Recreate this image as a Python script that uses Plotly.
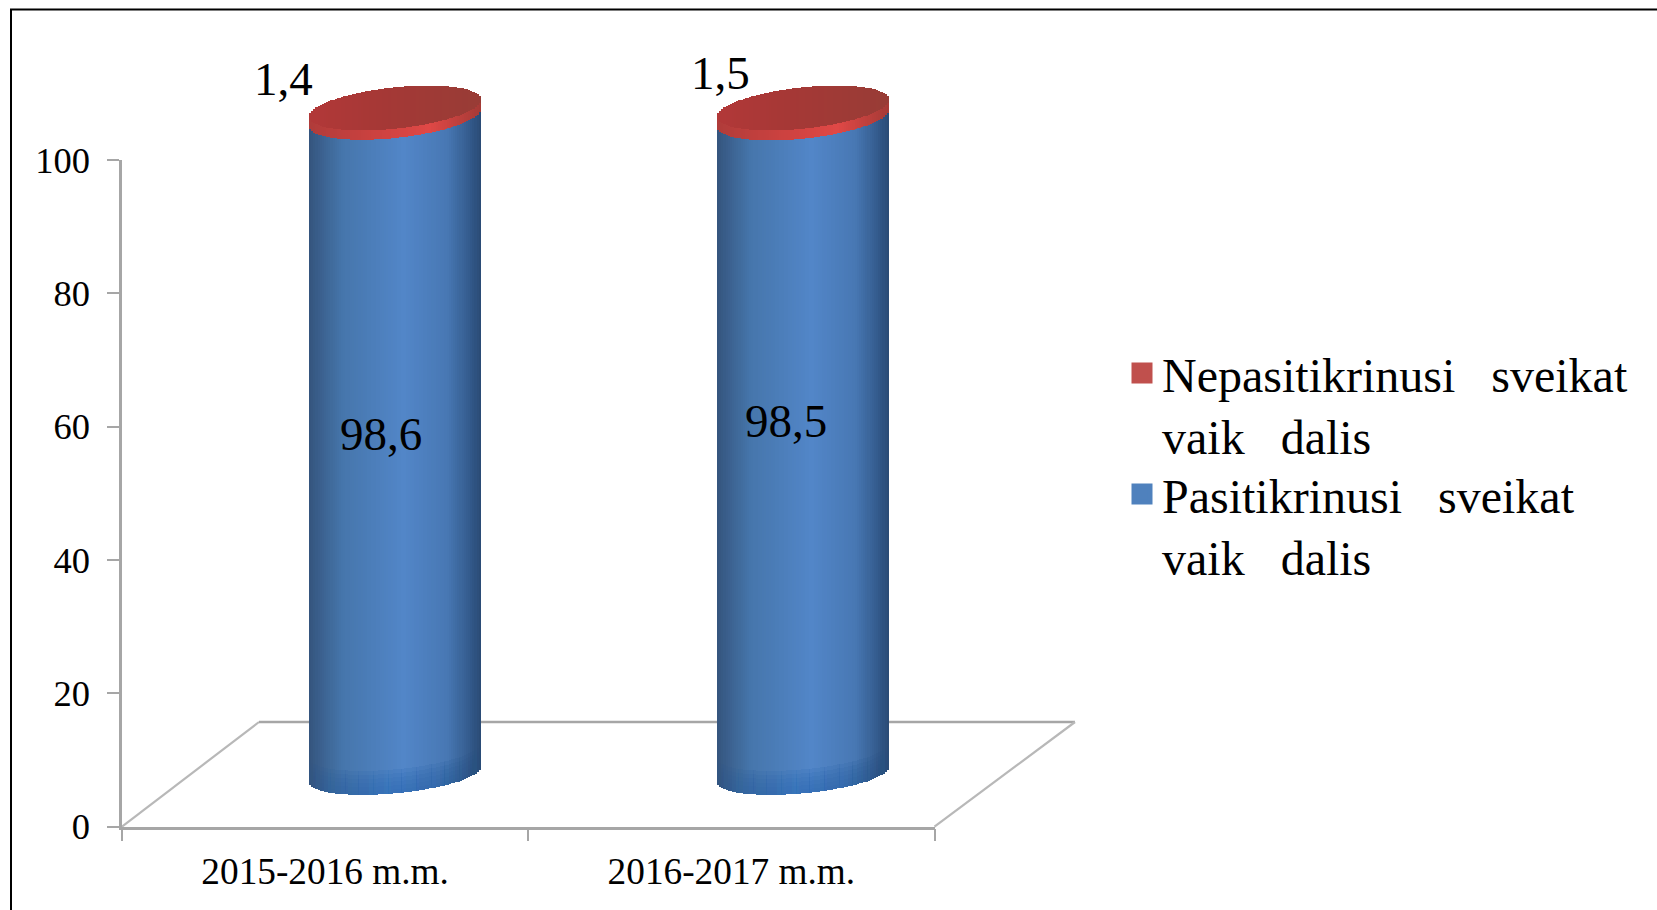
import numpy as np
import plotly.graph_objects as go

# ---- data ----
categories = ["2015-2016 m.m.", "2016-2017 m.m."]
checked = [98.6, 98.5]
unchecked = [1.4, 1.5]
# the leading blank line keeps the legend swatch level with the first text line
name_unchecked = "\u00a0<br>Nepasitikrinusi\u00a0\u00a0\u00a0sveikat<br>vaik\u00a0\u00a0\u00a0dalis"
name_checked = "\u00a0<br>Pasitikrinusi\u00a0\u00a0\u00a0sveikat<br>vaik\u00a0\u00a0\u00a0dalis"
y_ticks = [0, 20, 40, 60, 80, 100]

# ---- layout constants (pixels of the 1657x910 page) ----
W, H = 1657, 910
PX0, PX1, PY0, PY100 = 122, 934.5, 826.7, 160
FLOOR_R = 1075
DEPTH_X, DEPTH_Y = 137, 104.7        # full depth of the floor
SHIFT_X, SHIFT_Y = 69, 52.4          # cylinders stand in the middle of it
X2_SPAN = 816
UNIT = (PY0 - PY100) / 100
Y2_MIN, Y2_MAX = -12, 112

def fx(p): return p / W
def fy(p): return 1 - p / H

BAR_W = 172 / (X2_SPAN / 2)
A = BAR_W / 2
N = 80
TILT = 1.3    # y-units the ellipse rises from centre to right edge
B = 3.1       # y-units of the ellipse half height

def lerp_colors(stops, t):
    xs = [s[0] for s in stops]
    return "rgb({},{},{})".format(*[int(round(np.interp(t, xs, [s[1][k] for s in stops]))) for k in range(3)])

BLUE = [(0, (52, 84, 124)), (0.06, (58, 95, 140)), (0.2, (70, 118, 172)), (0.55, (82, 134, 200)),
        (0.8, (72, 120, 180)), (0.93, (52, 92, 142)), (1, (42, 74, 116))]
BLUE_LOW = [(0, (48, 84, 130)), (0.12, (50, 98, 155)), (0.45, (52, 112, 185)), (0.75, (48, 104, 170)),
            (1, (42, 76, 120))]
RIM = [(0, (176, 60, 58)), (0.4, (205, 66, 64)), (0.7, (224, 72, 70)), (1, (165, 58, 54))]
CAP = [(0, (178, 56, 56)), (0.4, (166, 56, 54)), (1, (152, 60, 54))]

u = (np.arange(N) + 0.5) / N * 2 - 1
t = (u + 1) / 2
front = TILT * u - B * np.sqrt(1 - u ** 2)
back = TILT * u + B * np.sqrt(1 - u ** 2)
strip_w = BAR_W / N * 1.06

sx, blue_base, blue_h, blue_c, low_c = [], [], [], [], []
red_base, red_h, red_c = [], [], []
cap_base, cap_h, cap_c = [], [], []
for i in range(len(categories)):
    for k in range(N):
        sx.append(i + u[k] * A)
        blue_base.append(front[k] * 0.9)
        blue_h.append(checked[i] + front[k] - front[k] * 0.9)
        blue_c.append(lerp_colors(BLUE, t[k]))
        low_c.append(lerp_colors(BLUE_LOW, t[k]))
        red_base.append(checked[i] + front[k])
        red_h.append(unchecked[i])
        red_c.append(lerp_colors(RIM, t[k]))
        cap_base.append(checked[i] + unchecked[i] + front[k])
        cap_h.append(back[k] - front[k])
        cap_c.append(lerp_colors(CAP, t[k]))

fig = go.Figure()

# main axes: category scale plus the two legend entries
fig.add_trace(go.Scatter(x=categories, y=[None, None], mode="markers", name=name_unchecked, showlegend=True,
                         legend="legend",
                         marker=dict(symbol="square", size=16, color="#C0504D", line=dict(color="#C0504D", width=5)),
                         hoverinfo="skip"))
fig.add_trace(go.Scatter(x=categories, y=[None, None], mode="markers", name=name_checked, showlegend=True,
                         legend="legend2",
                         marker=dict(symbol="square", size=16, color="#4F81BD", line=dict(color="#4F81BD", width=5)),
                         hoverinfo="skip"))

# cylinders on the shifted axes
fig.add_trace(go.Bar(x=sx, y=blue_h, base=blue_base, width=strip_w, xaxis="x2", yaxis="y2", showlegend=False,
                     marker=dict(color=blue_c, line=dict(width=0)), hoverinfo="skip"))
# soft, more saturated fade at the foot of each cylinder
for band in [3.6, 3.0, 2.4, 1.8, 1.2, 0.6]:
    fig.add_trace(go.Bar(x=sx, y=[band] * len(sx), base=blue_base, width=strip_w, xaxis="x2", yaxis="y2",
                         showlegend=False, marker=dict(color=low_c, opacity=0.22, line=dict(width=0)),
                         hoverinfo="skip"))
for base, h, c in [(red_base, red_h, red_c), (cap_base, cap_h, cap_c)]:
    fig.add_trace(go.Bar(x=sx, y=h, base=base, width=strip_w, xaxis="x2", yaxis="y2", showlegend=False,
                         marker=dict(color=c, line=dict(width=0)), hoverinfo="skip"))

GRAY = "#A6A6A6"
legend_style = dict(xanchor="left", yanchor="top", font=dict(size=48), itemwidth=30,
                    bgcolor="rgba(0,0,0,0)", itemclick=False, itemdoubleclick=False)
fig.update_layout(
    width=W, height=H, margin=dict(l=0, r=0, t=0, b=0), autosize=False,
    paper_bgcolor="white", plot_bgcolor="rgba(0,0,0,0)", barmode="overlay", bargap=0,
    font=dict(family="Liberation Serif", color="black"),
    xaxis=dict(domain=[fx(PX0), fx(PX1)], type="category", categoryorder="array", categoryarray=categories,
               range=[-0.5, 1.5], tickson="boundaries", ticks="outside", ticklen=12, tickwidth=1.5, tickcolor=GRAY,
               showline=True, linecolor=GRAY, linewidth=2.5, showgrid=False, zeroline=False, automargin=False,
               tickfont=dict(size=37.3), ticklabelstandoff=10, fixedrange=True),
    yaxis=dict(domain=[fy(PY0), fy(PY100)], range=[0, 100], tickvals=y_ticks, ticks="outside", ticklen=12,
               tickwidth=1.5, tickcolor=GRAY, showline=True, linecolor=GRAY, linewidth=2.5, showgrid=False,
               zeroline=False, automargin=False, tickfont=dict(size=36.5), ticklabelstandoff=10, fixedrange=True),
    xaxis2=dict(domain=[fx(PX0 + SHIFT_X), fx(PX0 + SHIFT_X + X2_SPAN)], range=[-0.5, 1.5], visible=False,
                anchor="y2", automargin=False, fixedrange=True),
    yaxis2=dict(domain=[fy(PY0 - SHIFT_Y - Y2_MIN * UNIT), fy(PY0 - SHIFT_Y - Y2_MAX * UNIT)],
                range=[Y2_MIN, Y2_MAX], visible=False, anchor="x2", automargin=False, fixedrange=True),
    legend=dict(x=fx(1122), y=fy(273), **legend_style),
    legend2=dict(x=fx(1122), y=fy(394), **legend_style),
    shapes=[
        dict(type="path", xref="paper", yref="paper", layer="below",
             path=f"M{fx(PX0)},{fy(PY0)} L{fx(PX0 + DEPTH_X)},{fy(PY0 - DEPTH_Y)}",
             line=dict(color="#B8B8B8", width=2.2)),
        dict(type="path", xref="paper", yref="paper", layer="below",
             path=f"M{fx(PX0 + DEPTH_X)},{fy(PY0 - DEPTH_Y)} L{fx(FLOOR_R)},{fy(PY0 - DEPTH_Y)}",
             line=dict(color=GRAY, width=2.5)),
        dict(type="path", xref="paper", yref="paper", layer="below",
             path=f"M{fx(PX1)},{fy(PY0)} L{fx(FLOOR_R)},{fy(PY0 - DEPTH_Y)}",
             line=dict(color="#B8B8B8", width=2.2)),
        dict(type="path", xref="paper", yref="paper", layer="above",
             path=f"M{fx(11)},{fy(H + 5)} L{fx(11)},{fy(9.5)} L{fx(W + 5)},{fy(9.5)}",
             line=dict(color="black", width=2)),
    ],
)

def lab(v):
    return f"{v:.1f}".replace(".", ",")

for txt, px, py in [(lab(checked[0]), 381, 434), (lab(checked[1]), 786, 421),
                    (lab(unchecked[0]), 283, 79), (lab(unchecked[1]), 720, 73)]:
    fig.add_annotation(x=fx(px), y=fy(py), xref="paper", yref="paper", text=txt, showarrow=False,
                       font=dict(size=47), xanchor="center", yanchor="middle")

fig.write_html("out.html", config={"displayModeBar": False},
               post_script="document.body.style.margin='0';")
